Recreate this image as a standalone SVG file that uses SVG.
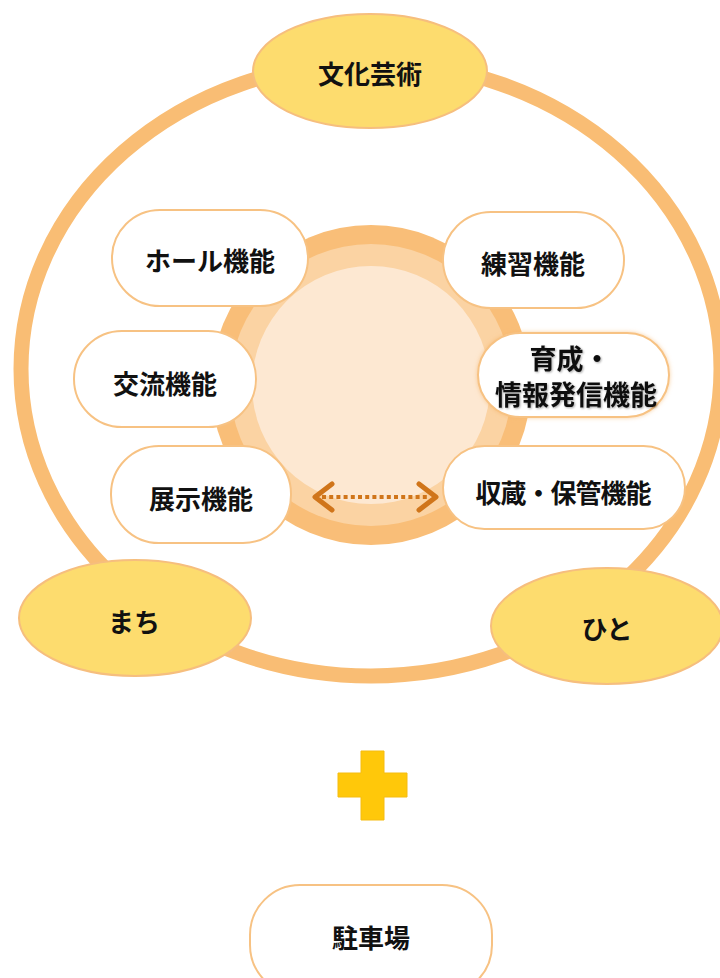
<svg xmlns="http://www.w3.org/2000/svg" width="720" height="978" viewBox="0 0 720 978">
<defs>
<style>
.t{font-family:"Noto Sans CJK JP","Noto Sans",sans-serif;font-weight:bold;font-size:26px;fill:#111;text-anchor:middle;dominant-baseline:central}
.pill{fill:#fff;stroke:#F7C283;stroke-width:2}
.yel{fill:#FDDC6E;stroke:#F6BE7E;stroke-width:2}
.arr{fill:none;stroke:#D0751A;stroke-width:5;stroke-linecap:round;stroke-linejoin:round}
</style>
<filter id="glow" x="-20%" y="-30%" width="140%" height="160%">
<feGaussianBlur in="SourceAlpha" stdDeviation="2"/>
<feOffset dx="0" dy="0" result="b"/>
<feFlood flood-color="#F4B46A" flood-opacity="0.6"/>
<feComposite in2="b" operator="in"/>
<feMerge><feMergeNode/><feMergeNode in="SourceGraphic"/></feMerge>
</filter>
<filter id="tsh" x="-10%" y="-20%" width="120%" height="140%">
<feGaussianBlur in="SourceAlpha" stdDeviation="1"/>
<feOffset dx="1" dy="1"/>
<feComponentTransfer><feFuncA type="linear" slope="0.35"/></feComponentTransfer>
<feMerge><feMergeNode/><feMergeNode in="SourceGraphic"/></feMerge>
</filter>
</defs>
<rect width="720" height="978" fill="#fff"/>
<g id="ring">
<ellipse cx="371" cy="369" rx="350" ry="307" fill="none" stroke="#F9BD74" stroke-width="15"/>
</g>
<g id="core">
<circle cx="371" cy="385" r="160" fill="#F9BE78"/>
<circle cx="371" cy="385" r="141" fill="#FBD3A3"/>
<circle cx="371" cy="385" r="119" fill="#FDE8D2"/>
</g>
<g id="connectors">
<line x1="322" y1="497" x2="430" y2="497" stroke="#D0751A" stroke-width="4" stroke-dasharray="4 3.2"/>
<polyline class="arr" points="332,484 315,497 332,510"/>
<polyline class="arr" points="419,484 436,497 419,510"/>
</g>
<g id="bunka"><ellipse class="yel" cx="370" cy="71" rx="117" ry="57"/><text class="t" x="370" y="72">文化芸術</text></g>
<g id="machi"><ellipse class="yel" cx="135" cy="618" rx="116" ry="58"/><text class="t" x="134" y="620">まち</text></g>
<g id="hito"><ellipse class="yel" cx="607" cy="626" rx="116" ry="58"/><text class="t" x="607" y="627">ひと</text></g>
<g id="hall"><rect class="pill" x="112" y="210" width="196" height="96" rx="48"/><text class="t" x="210" y="259">ホール機能</text></g>
<g id="renshu"><rect class="pill" x="443" y="212" width="181" height="96" rx="48"/><text class="t" x="533" y="262">練習機能</text></g>
<g id="koryu"><rect class="pill" x="74" y="331" width="182" height="96" rx="48"/><text class="t" x="165" y="382">交流機能</text></g>
<g id="ikusei"><rect class="pill" x="478" y="333" width="191" height="84" rx="42" filter="url(#glow)"/><g filter="url(#tsh)"><text class="t" x="570" y="357" style="font-size:27px">育成・</text><text class="t" x="576" y="393" style="font-size:27px">情報発信機能</text></g></g>
<g id="tenji"><rect class="pill" x="111" y="446" width="180" height="97" rx="48"/><text class="t" x="201" y="497">展示機能</text></g>
<g id="shuzo"><rect class="pill" x="443" y="446" width="242" height="83" rx="41.5"/><text class="t" x="563" y="491" letter-spacing="-1">収蔵・保管機能</text></g>
<g id="plus"><path d="M361,751 H384 V773 H407 V797 H384 V820 H361 V797 H338 V773 H361 Z" fill="#FFC80A" stroke="#F5BC10" stroke-width="1"/></g>
<g id="parking"><rect class="pill" x="250" y="885" width="242" height="110" rx="50"/><text class="t" x="371" y="936">駐車場</text></g>
</svg>
